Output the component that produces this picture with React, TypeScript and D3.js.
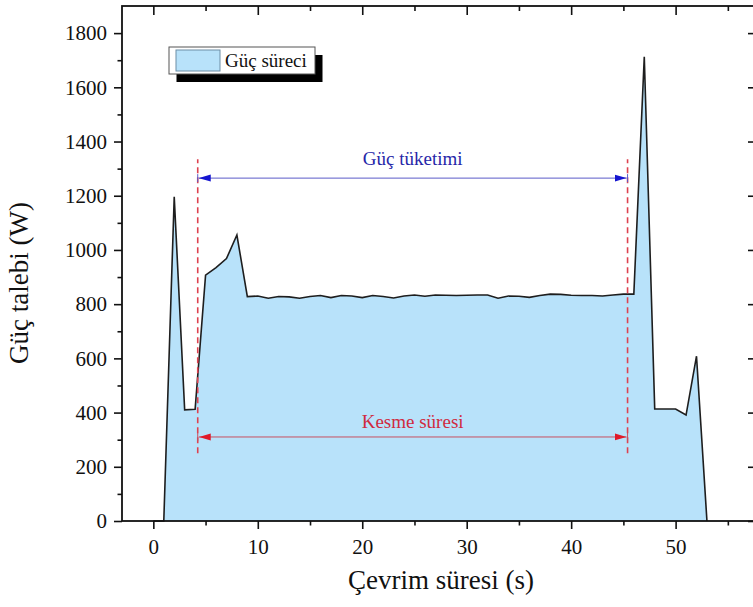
import React, { useEffect, useRef } from 'react';
import * as d3 from 'd3';

// cycle time (s) and power demand (W)
const timeS = [
  0, 1, 2, 3, 4, 5, 6, 7, 8, 9, 10, 11, 12, 13, 14, 15, 16, 17, 18, 19, 20,
  21, 22, 23, 24, 25, 26, 27, 28, 29, 30, 31, 32, 33, 34, 35, 36, 37, 38, 39,
  40, 41, 42, 43, 44, 45, 46, 47, 48, 49, 50, 51, 52, 53,
];
const powerW = [
  0, 0, 1196, 410, 412, 907, 935, 968, 1055, 828, 830, 822, 828, 827, 822, 828,
  832, 824, 832, 830, 824, 832, 828, 823, 830, 834, 829, 834, 833, 832, 833,
  834, 834, 822, 830, 829, 825, 832, 837, 836, 833, 832, 832, 830, 834, 837,
  837, 1713, 413, 413, 413, 391, 608, 0,
];

const xTicks = [0, 10, 20, 30, 40, 50];
const xMinorTicks = [5, 15, 25, 35, 45, 55];
const yTicks = [0, 200, 400, 600, 800, 1000, 1200, 1400, 1600, 1800];
const yMinorTicks = [100, 300, 500, 700, 900, 1100, 1300, 1500, 1700];

// annotation: cutting period (s) and levels (W)
const cutPeriod = [4.25, 45.4];
const dashRange = [250, 1335];
const consumptionLevel = 1265;
const cuttingLevel = 310;

const seriesName = 'Güç süreci';
const FONT = 'Liberation Serif, Tinos, Times New Roman, Times, DejaVu Serif, serif';
const FILL = '#b8e2fa';

const App: React.FC = () => {
  const svgRef = useRef<SVGSVGElement>(null);

  useEffect(() => {
    if (!svgRef.current) return;
    const svg = d3.select(svgRef.current);
    svg.selectAll('*').remove();

    const left = 122, right = 755, top = 6, bottom = 521;
    const x = d3.scaleLinear().domain([-3, 57.6]).range([left, right]);
    const y = d3.scaleLinear().domain([0, 1900]).range([bottom, top]);

    const data = timeS.map((t, i) => ({ t, v: powerW[i] }));

    // area + line
    const area = d3.area<{ t: number; v: number }>()
      .x(d => x(d.t)).y0(y(0)).y1(d => y(d.v));
    const line = d3.line<{ t: number; v: number }>()
      .x(d => x(d.t)).y(d => y(d.v));

    svg.append('path').datum(data).attr('d', area).attr('fill', FILL);
    svg.append('path').datum(data).attr('d', line)
      .attr('fill', 'none').attr('stroke', '#1e1e1e').attr('stroke-width', 1.6)
      .attr('stroke-linejoin', 'miter');

    // dashed red lines
    cutPeriod.forEach(t => {
      svg.append('line')
        .attr('x1', x(t)).attr('x2', x(t))
        .attr('y1', y(dashRange[0])).attr('y2', y(dashRange[1]))
        .attr('stroke', '#dd4250').attr('stroke-width', 1.6)
        .attr('stroke-dasharray', '6,4');
    });

    // double arrows
    const defs = svg.append('defs');
    const marker = (id: string, color: string) => {
      defs.append('marker')
        .attr('id', id).attr('viewBox', '0 0 12 10')
        .attr('refX', 12).attr('refY', 5)
        .attr('markerWidth', 12).attr('markerHeight', 10)
        .attr('markerUnits', 'userSpaceOnUse')
        .attr('orient', 'auto-start-reverse')
        .append('path').attr('d', 'M0,1.5 L12,5 L0,8.5 Z').attr('fill', color);
    };
    marker('arrBlue', '#1515d0');
    marker('arrRed', '#e01a2a');

    const arrow = (level: number, color: string, id: string) => {
      const yy = y(level);
      svg.append('line')
        .attr('x1', x(cutPeriod[0]) + 1).attr('x2', x(cutPeriod[1]) - 1)
        .attr('y1', yy).attr('y2', yy)
        .attr('stroke', color).attr('stroke-width', 1)
        .attr('marker-start', `url(#${id})`).attr('marker-end', `url(#${id})`);
      cutPeriod.forEach(t => {
        svg.append('line')
          .attr('x1', x(t)).attr('x2', x(t))
          .attr('y1', yy - 4).attr('y2', yy + 4)
          .attr('stroke', color).attr('stroke-width', 1);
      });
    };
    arrow(consumptionLevel, '#5a5ac8', 'arrBlue');
    arrow(cuttingLevel, '#c85060', 'arrRed');

    const midX = (x(cutPeriod[0]) + x(cutPeriod[1])) / 2;
    svg.append('text')
      .attr('x', midX).attr('y', y(1313))
      .attr('text-anchor', 'middle').attr('fill', '#2626a8')
      .style('font-family', FONT).style('font-size', '19px')
      .text('Güç tüketimi');
    svg.append('text')
      .attr('x', midX).attr('y', y(343))
      .attr('text-anchor', 'middle').attr('fill', '#d02a40')
      .style('font-family', FONT).style('font-size', '19px')
      .text('Kesme süresi');

    // axes
    const styleAxis = (g: d3.Selection<SVGGElement, unknown, null, undefined>) => {
      g.selectAll('.domain').remove();
      g.selectAll('line').attr('stroke', '#111').attr('stroke-width', 1.6);
      g.selectAll('text').attr('fill', '#111')
        .style('font-family', FONT).style('font-size', '21px');
    };
    const fmt = d3.format('d');

    svg.append('g').attr('transform', `translate(0,${bottom})`)
      .call(d3.axisBottom(x).tickValues(xTicks).tickSize(8).tickPadding(10).tickFormat(fmt))
      .call(styleAxis);
    svg.append('g').attr('transform', `translate(0,${bottom})`)
      .call(d3.axisBottom(x).tickValues(xMinorTicks).tickSize(4.5).tickFormat(() => ''))
      .call(styleAxis);
    svg.append('g').attr('transform', `translate(0,${top})`)
      .call(d3.axisBottom(x).tickValues(xTicks).tickSize(9).tickFormat(() => ''))
      .call(styleAxis);
    svg.append('g').attr('transform', `translate(0,${top})`)
      .call(d3.axisBottom(x).tickValues(xMinorTicks).tickSize(5).tickFormat(() => ''))
      .call(styleAxis);

    svg.append('g').attr('transform', `translate(${left},0)`)
      .call(d3.axisLeft(y).tickValues(yTicks).tickSize(8).tickPadding(7).tickFormat(fmt))
      .call(styleAxis);
    svg.append('g').attr('transform', `translate(${left},0)`)
      .call(d3.axisLeft(y).tickValues(yMinorTicks).tickSize(4.5).tickFormat(() => ''))
      .call(styleAxis);
    svg.append('g').attr('transform', `translate(${right},0)`)
      .call(d3.axisLeft(y).tickValues(yTicks).tickSize(7).tickFormat(() => ''))
      .call(styleAxis);

    // frame
    svg.append('rect')
      .attr('x', left).attr('y', top)
      .attr('width', right - left).attr('height', bottom - top)
      .attr('fill', 'none').attr('stroke', '#111').attr('stroke-width', 1.8);

    // axis titles
    svg.append('text')
      .attr('transform', `translate(441,589)`)
      .attr('text-anchor', 'middle').attr('fill', '#111')
      .style('font-family', FONT).style('font-size', '27px')
      .text('Çevrim süresi (s)');
    svg.append('text')
      .attr('transform', `translate(28,283) rotate(-90)`)
      .attr('text-anchor', 'middle').attr('fill', '#111')
      .style('font-family', FONT).style('font-size', '27px')
      .text('Güç talebi (W)');

    // legend with drop shadow
    const lx = 169, ly = 47, lw = 146, lh = 27;
    svg.append('rect').attr('x', lx + 7.5).attr('y', ly + 8)
      .attr('width', lw).attr('height', lh).attr('fill', '#000');
    svg.append('rect').attr('x', lx).attr('y', ly)
      .attr('width', lw).attr('height', lh)
      .attr('fill', '#fff').attr('stroke', '#555').attr('stroke-width', 1);
    svg.append('rect').attr('x', lx + 7).attr('y', ly + 3)
      .attr('width', 44).attr('height', 21)
      .attr('fill', FILL).attr('stroke', '#6d8ea6').attr('stroke-width', 1);
    svg.append('text')
      .attr('x', lx + 56).attr('y', ly + 20)
      .attr('fill', '#111')
      .style('font-family', FONT).style('font-size', '19px')
      .text(seriesName);
  }, []);

  return (
    <svg
      ref={svgRef}
      width={753}
      height={607}
      style={{ position: 'absolute', left: 0, top: 0, background: '#fff' }}
    />
  );
};

export default App;
